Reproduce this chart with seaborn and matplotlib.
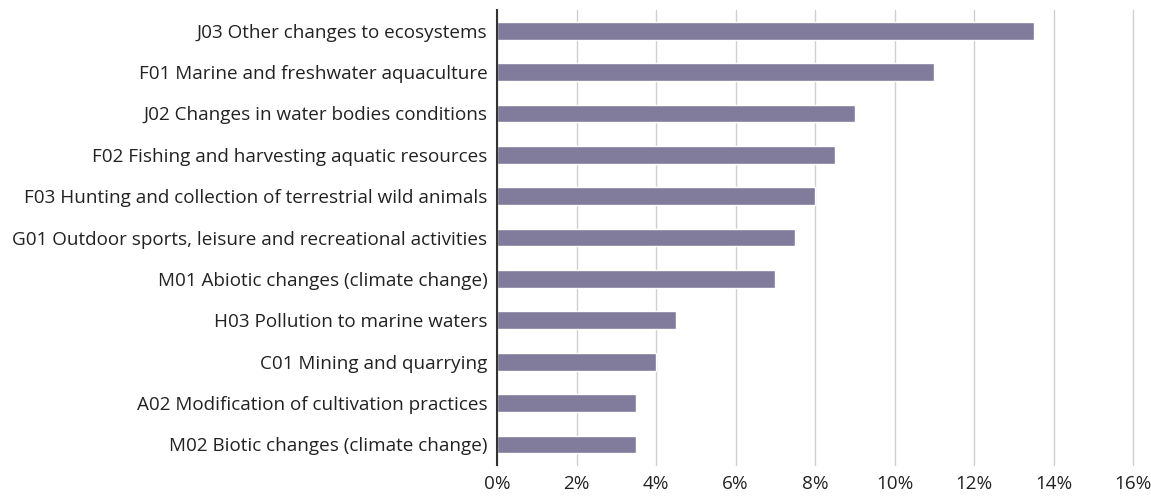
import matplotlib
matplotlib.use("Agg")
import matplotlib.pyplot as plt
import seaborn as sns
import pandas as pd
from matplotlib.ticker import FuncFormatter

# pressures and share of reports (%)
labels = [
    "J03 Other changes to ecosystems",
    "F01 Marine and freshwater aquaculture",
    "J02 Changes in water bodies conditions",
    "F02 Fishing and harvesting aquatic resources",
    "F03 Hunting and collection of terrestrial wild animals",
    "G01 Outdoor sports, leisure and recreational activities",
    "M01 Abiotic changes (climate change)",
    "H03 Pollution to marine waters",
    "C01 Mining and quarrying",
    "A02 Modification of cultivation practices",
    "M02 Biotic changes (climate change)",
]
values = [13.5, 11.0, 9.0, 8.5, 8.0, 7.5, 7.0, 4.5, 4.0, 3.5, 3.5]
xticks = [0, 2, 4, 6, 8, 10, 12, 14, 16]

df = pd.DataFrame({"label": labels, "value": values})

sns.set_style("white")
plt.rcParams["font.family"] = ["Open Sans", "DejaVu Sans"]

fig = plt.figure(figsize=(11.51, 4.98), dpi=100)
ax = fig.add_axes([0.4318, 0.066, 0.5526, 0.914])

sns.barplot(data=df, x="value", y="label", orient="h", color="#817c9c",
            saturation=1, width=0.43, ax=ax)

ax.set_xlim(0, 16)
ax.set_ylim(len(labels) - 0.5, -0.5)
ax.set_xticks(xticks)
ax.xaxis.set_major_formatter(FuncFormatter(lambda v, p: "%d%%" % v))
ax.grid(axis="x", color="#d0d0d0", linewidth=1)
for line in ax.get_xgridlines():
    line.set_zorder(3)
    line.set_clip_on(False)
ax.set_xlabel("")
ax.set_ylabel("")
for s in ["top", "right", "bottom"]:
    ax.spines[s].set_visible(False)
ax.spines["left"].set_color("#333333")
ax.spines["left"].set_linewidth(1.5)
ax.spines["left"].set_zorder(4)
ax.tick_params(axis="both", length=0, labelsize=13.6, colors="#222222")
ax.tick_params(axis="y", pad=7)
ax.tick_params(axis="x", pad=7)

fig.savefig("out.png", dpi=100)
